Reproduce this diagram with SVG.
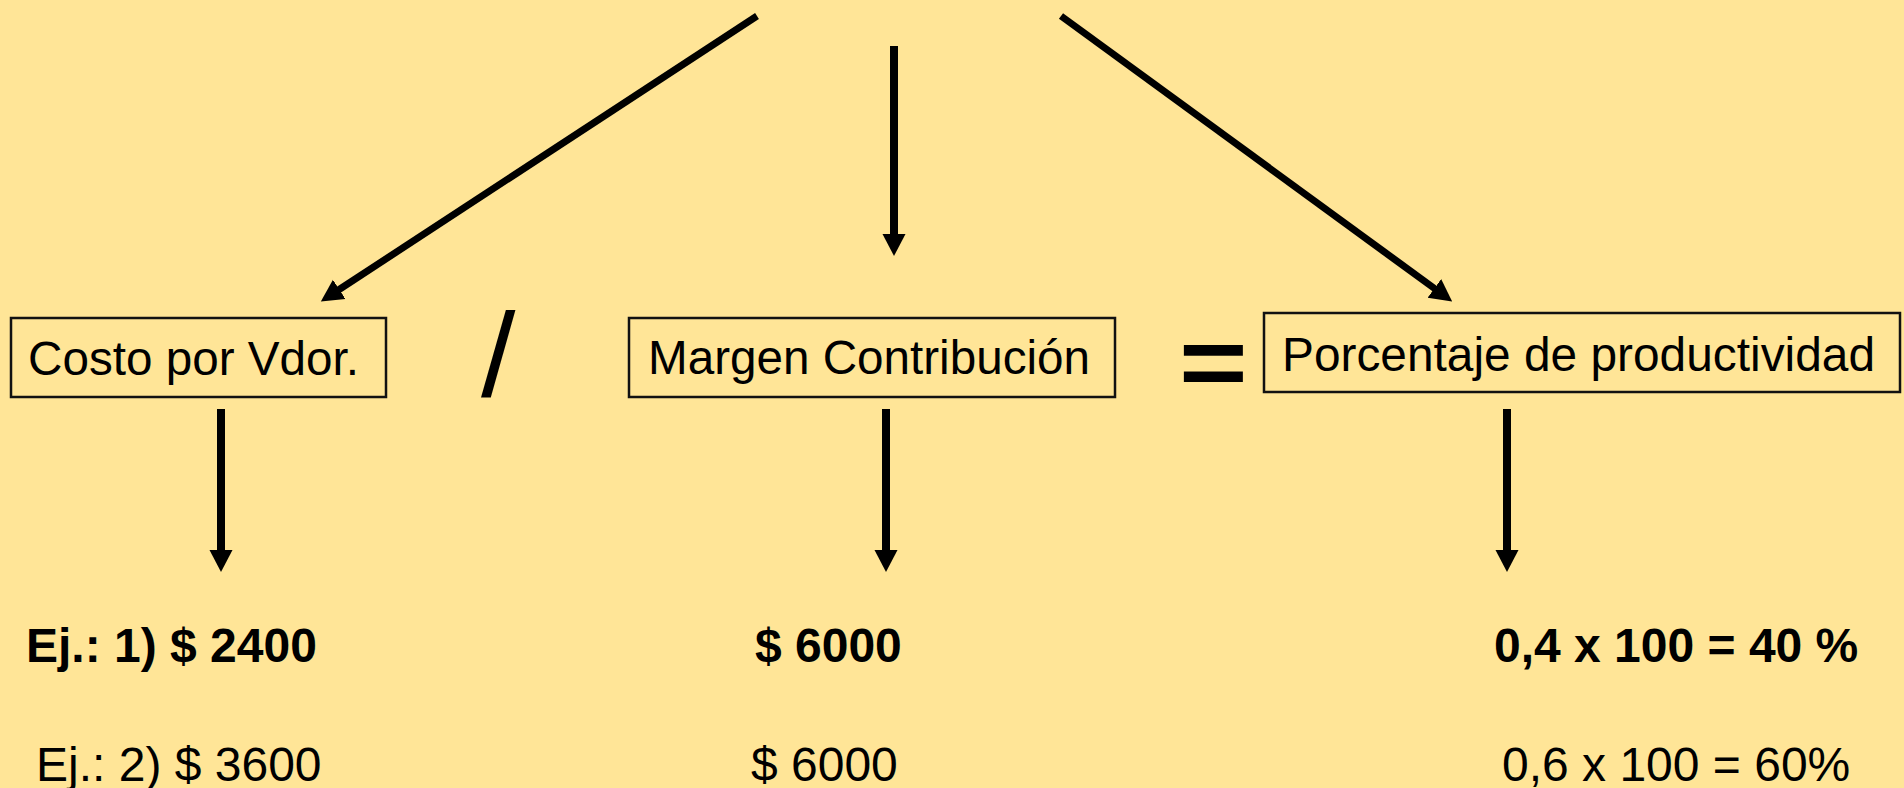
<svg xmlns="http://www.w3.org/2000/svg" width="1904" height="788" viewBox="0 0 1904 788">
  <style>
    .bg { fill: #FFE597; }
    .box { fill: none; stroke: #111; stroke-width: 2.5; }
    .lbl { font-family: "Liberation Sans", Arial, sans-serif; font-size: 48px; fill: #000; }
    .b { font-weight: bold; }
    .op { font-family: "Liberation Sans", Arial, sans-serif; fill: #000; }
    .con { stroke: #000; fill: none; }
  </style>
  <defs>
    <marker id="head" markerUnits="userSpaceOnUse" markerWidth="26" markerHeight="26" viewBox="0 -13 26 26" refX="1" refY="0" orient="auto">
      <path d="M0,-11.5 L22,0 L0,11.5 z" fill="#000"/>
    </marker>
  </defs>

  <rect class="bg" x="0" y="0" width="1904" height="788"/>

  <!-- connectors -->
  <g id="connectors">
    <line class="con" stroke-width="7" x1="757" y1="16" x2="338.4" y2="290" marker-end="url(#head)"/>
    <line class="con" stroke-width="8" x1="894" y1="46" x2="894" y2="235" marker-end="url(#head)"/>
    <line class="con" stroke-width="7" x1="1061" y1="16" x2="1435.2" y2="289" marker-end="url(#head)"/>
    <line class="con" stroke-width="8" x1="221" y1="409" x2="221" y2="551" marker-end="url(#head)"/>
    <line class="con" stroke-width="8" x1="886" y1="409" x2="886" y2="551" marker-end="url(#head)"/>
    <line class="con" stroke-width="8" x1="1507" y1="409" x2="1507" y2="551" marker-end="url(#head)"/>
  </g>

  <!-- formula boxes -->
  <g id="costo">
    <rect class="box" x="11" y="318" width="375" height="79"/>
    <text class="lbl" x="28" y="375" textLength="331" lengthAdjust="spacingAndGlyphs">Costo por Vdor.</text>
  </g>
  <g id="div-op">
    <text class="op" font-size="118" transform="translate(481,396) scale(1.05,1)">/</text>
  </g>
  <g id="margen">
    <rect class="box" x="629" y="318" width="486" height="79"/>
    <text class="lbl" x="648" y="374" textLength="442" lengthAdjust="spacingAndGlyphs">Margen Contribución</text>
  </g>
  <g id="eq-op">
    <text class="op b" font-size="98" transform="translate(1179,396) scale(1.2,1)">=</text>
  </g>
  <g id="porcentaje">
    <rect class="box" x="1264" y="313" width="636" height="79"/>
    <text class="lbl" x="1282" y="371" textLength="593" lengthAdjust="spacingAndGlyphs">Porcentaje de productividad</text>
  </g>

  <!-- worked examples -->
  <g id="ej1">
    <text class="lbl b" x="26" y="662">Ej.: 1) $ 2400</text>
    <text class="lbl b" x="755" y="662">$ 6000</text>
    <text class="lbl b" x="1494" y="662">0,4 x 100 = 40 %</text>
  </g>
  <g id="ej2">
    <text class="lbl" x="36" y="781">Ej.: 2) $ 3600</text>
    <text class="lbl" x="751" y="781">$ 6000</text>
    <text class="lbl" x="1502" y="781">0,6 x 100 = 60%</text>
  </g>
</svg>
